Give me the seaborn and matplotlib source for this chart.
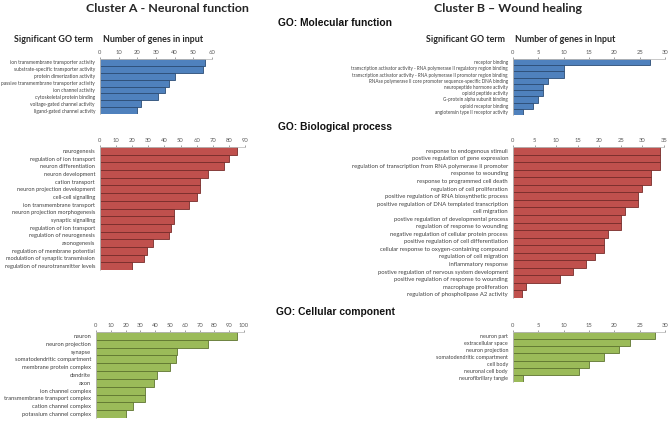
import numpy as np
import pandas as pd
import seaborn as sns
import matplotlib
import matplotlib.pyplot as plt
matplotlib.use('Agg')

sns.set_theme(style="white")
plt.rcParams['font.family'] = ['Lato', 'DejaVu Sans']

# ---- data ----
a_mf_terms = ["ion transmembrane transporter activity", "substrate-specific transporter activity",
              "protein dimerization activity", "passive transmembrane transporter activity",
              "ion channel activity", "cytoskeletal protein binding", "voltage-gated channel activity",
              "ligand-gated channel activity"]
a_mf_vals = [56, 55, 40, 37, 35, 31, 22, 20]

a_bp_terms = ["neurogenesis", "regulation of ion transport", "neuron differentiation", "neuron development",
              "cation transport", "neuron projection development", "cell-cell signalling",
              "ion transmembrane transport", "neuron projection morphogenesis", "synaptic signalling",
              "regulation of ion transport", "regulation of neurogenesis", "axonogenesis",
              "regulation of membrane potential", "modulation of synaptic transmission",
              "regulation of neurotransmitter levels"]
a_bp_vals = [85, 80, 77, 67, 62, 62, 60, 55, 46, 46, 44, 43, 33, 29, 27, 20]

a_cc_terms = ["neuron", "neuron projection", "synapse", "somatodendritic compartment",
              "membrane protein complex", "dendrite", "axon", "ion channel complex",
              "transmembrane transport complex", "cation channel complex", "potassium channel complex"]
a_cc_vals = [95, 76, 55, 54, 50, 41, 39, 33, 33, 25, 20]

b_mf_terms = ["receptor binding",
              "transcription activator activity - RNA polymerase II regulatory region binding",
              "transcription activator activity - RNA polymerase II promotor region binding",
              "RNAse polymerase II core promoter sequence-specific DNA binding",
              "neuropeptide hormone activity", "opioid peptide activity", "G-protein alpha subunit binding",
              "opioid receptor binding", "angiotensin type II receptor activity"]
b_mf_vals = [27, 10, 10, 7, 6, 6, 5, 4, 2]

b_bp_terms = ["response to endogenous stimuli", "postive regulation of gene expression",
              "regulation of transcription from RNA polymerase II promoter", "response to wounding",
              "response to programmed cell death", "regulation of cell proliferation",
              "positive regulation of RNA biosynthetic process",
              "positive regulation of DNA templated transcription", "cell migration",
              "postive regulation of developmental process", "regulation of response to wounding",
              "negative regulation of cellular protein process", "positive regulation of cell differentiation",
              "cellular response to oxygen-containing compound", "regulation of cell migration",
              "inflammatory response", "postive regulation of nervous system development",
              "positive regulation of response to wounding", "macrophage proliferation",
              "regulation of phospholipase A2 activity"]
b_bp_vals = [34, 34, 34, 32, 32, 30, 29, 29, 26, 25, 25, 22, 21, 21, 19, 17, 14, 11, 3, 2]

b_cc_terms = ["neuron part", "extracellular space", "neuron projection", "somatodendritic compartment",
              "cell body", "neuronal cell body", "neurofibrillary tangle"]
b_cc_vals = [28, 23, 21, 18, 15, 13, 2]

blue, blue_e = '#4F81BD', '#2C4D75'
red, red_e = '#C0504D', '#772C2A'
green, green_e = '#9BBB59', '#5F7530'

W, H = 669, 425
fig = plt.figure(figsize=(W / 100, H / 100), dpi=100)


def panel(terms, vals, xmax, step, color, edge, x0, x1, top, bottom, lsize):
    ax = fig.add_axes([x0 / W, 1 - bottom / H, (x1 - x0) / W, (bottom - top) / H])
    df = pd.DataFrame({'pos': np.arange(len(vals)), 'val': vals})
    sns.barplot(data=df, x='val', y='pos', orient='h', color=color, edgecolor=edge,
                linewidth=0.6, width=1.0, saturation=1, ax=ax)
    ax.set_yticks(np.arange(len(terms)))
    ax.set_yticklabels(terms)
    ax.set_xlim(0, xmax)
    ax.set_xticks(np.arange(0, xmax + 1, step))
    ax.xaxis.tick_top()
    ax.tick_params(axis='x', labelsize=4.2, colors='#595959', length=1.5, width=0.4, pad=1.5)
    ax.tick_params(axis='y', labelsize=lsize, colors='#404040', length=0, pad=3.6)
    ax.set_xlabel('')
    ax.set_ylabel('')
    for s in ['right', 'bottom']:
        ax.spines[s].set_visible(False)
    for s in ['top', 'left']:
        ax.spines[s].set_color('#bfbfbf')
        ax.spines[s].set_linewidth(0.6)
    return ax


panel(a_mf_terms, a_mf_vals, 60, 10, blue, blue_e, 100, 212, 59, 114, 3.5)
panel(a_bp_terms, a_bp_vals, 90, 10, red, red_e, 100, 245, 147, 270, 4.1)
panel(a_cc_terms, a_cc_vals, 100, 10, green, green_e, 96, 244, 332, 418, 4.15)
panel(b_mf_terms, b_mf_vals, 30, 5, blue, blue_e, 513, 665, 59, 115, 3.35)
panel(b_bp_terms, b_bp_vals, 35, 5, red, red_e, 513, 664, 147, 298, 4.2)
panel(b_cc_terms, b_cc_vals, 30, 5, green, green_e, 513, 665, 332, 382, 3.85)

# titles and headers
fig.text(167 / W, 1 - 8 / H, "Cluster A - Neuronal function", ha='center', va='center',
         fontsize=8.9, fontweight='bold', color='#262626')
fig.text(508 / W, 1 - 8 / H, "Cluster B \u2013 Wound healing", ha='center', va='center',
         fontsize=8.9, fontweight='bold', color='#262626')
for txt, y in [("GO: Molecular function", 23), ("GO: Biological process", 127), ("GO: Cellular component", 312)]:
    fig.text(335 / W, 1 - y / H, txt, ha='center', va='center', fontsize=7.4, fontweight='bold',
             family=['Liberation Sans', 'DejaVu Sans'], color='#111111')
hdr = dict(va='center', fontsize=6.4, fontweight='bold', color='#262626')
fig.text(14 / W, 1 - 39 / H, "Significant GO term", ha='left', **hdr)
fig.text(103 / W, 1 - 39 / H, "Number of genes in input", ha='left', **hdr)
fig.text(426 / W, 1 - 39 / H, "Significant GO term", ha='left', **hdr)
fig.text(515 / W, 1 - 39 / H, "Number of genes in Input", ha='left', **hdr)

fig.savefig('out.png', dpi=100)
